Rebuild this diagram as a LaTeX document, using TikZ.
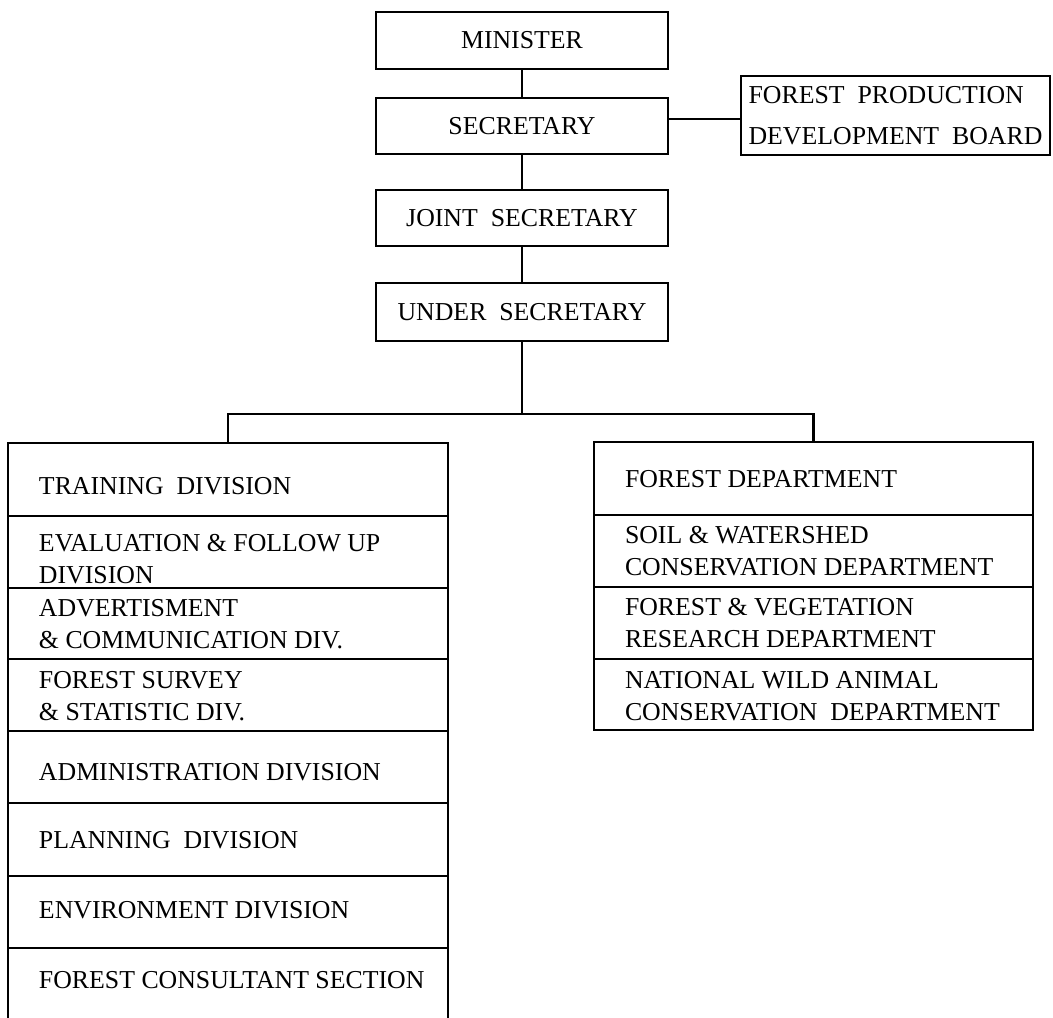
\documentclass[tikz,border=0pt]{standalone}
\usepackage{fontspec}
\setmainfont{Liberation Serif}
\begin{document}
\begin{tikzpicture}[x=0.5pt,y=-0.5pt,line width=1.1pt,
  every node/.style={outer sep=0pt},
  topbox/.style={draw,rectangle,inner sep=0pt,minimum width=146pt,
    font=\fontsize{12.9}{16}\selectfont},
  lcell/.style={draw,rectangle,inner sep=0pt,minimum width=220pt},
  rcell/.style={draw,rectangle,inner sep=0pt,minimum width=219.5pt},
  txt/.style={anchor=west,align=left,inner sep=0pt,
    font=\fontsize{12.9}{16}\selectfont},
  conn/.style={line width=1.1pt,line join=miter}]
\useasboundingbox (0,0) rectangle (1053,1017);

% top chain
\node[topbox,minimum height=28.5pt] (min) at (522,40.5) {MINISTER};
\node[topbox,minimum height=28pt] (sec) at (522,126) {SECRETARY};
\node[topbox,minimum height=28pt] (joint) at (522,218) {JOINT\ \ SECRETARY};
\node[topbox,minimum height=29pt] (under) at (522,312) {UNDER\ \ SECRETARY};
\node[draw,rectangle,inner sep=0pt,minimum width=154.5pt,minimum height=39.5pt,
  align=left,font=\fontsize{12.9}{20.5}\selectfont] (board) at (895.5,115.5)
  {FOREST\ \ PRODUCTION\\DEVELOPMENT\ \ BOARD};

\draw[conn] (min.south) -- (sec.north);
\draw[conn] (sec.south) -- (joint.north);
\draw[conn] (joint.south) -- (under.north);
\draw[conn] ([yshift=3.5pt]sec.east) -- ([yshift=3.5pt]sec.east -| board.west);

% left column cells
\node[lcell,minimum height=36.5pt] (c1) at (228,479.5) {};
\node[lcell,minimum height=36pt] (c2) at (228,552) {};
\node[lcell,minimum height=35.5pt] (c3) at (228,623.5) {};
\node[lcell,minimum height=36pt] (c4) at (228,695) {};
\node[lcell,minimum height=36pt] (c5) at (228,767) {};
\node[lcell,minimum height=36.5pt] (c6) at (228,839.5) {};
\node[lcell,minimum height=36pt] (c7) at (228,912) {};
\node[rectangle,inner sep=0pt,minimum width=220pt,minimum height=36pt] (c8) at (228,984) {};
\draw (c8.north west) -- (c8.south west);
\draw (c8.north east) -- (c8.south east);

\node[txt] (t1) at (39,486) {TRAINING\ \ DIVISION};
\node[txt] (t2) at (39,559) {EVALUATION \& FOLLOW UP\\DIVISION};
\node[txt] (t3) at (39,624) {ADVERTISMENT\\\& COMMUNICATION DIV.};
\node[txt] (t4) at (39,696) {FOREST SURVEY\\\& STATISTIC DIV.};
\node[txt] (t5) at (39,772) {ADMINISTRATION DIVISION};
\node[txt] (t6) at (39,840) {PLANNING\ \ DIVISION};
\node[txt] (t7) at (39,910) {ENVIRONMENT DIVISION};
\node[txt] (t8) at (39,980) {FOREST CONSULTANT SECTION};

% right column cells
\node[rcell,minimum height=36.5pt] (r1) at (813.5,478.5) {};
\node[rcell,minimum height=36pt] (r2) at (813.5,551) {};
\node[rcell,minimum height=36pt] (r3) at (813.5,623) {};
\node[rcell,minimum height=35.5pt] (r4) at (813.5,694.5) {};

\node[txt] (s1) at (625,479) {FOREST DEPARTMENT};
\node[txt] (s2) at (625,551) {SOIL \& WATERSHED\\CONSERVATION DEPARTMENT};
\node[txt] (s3) at (625,623.5) {FOREST \& VEGETATION\\RESEARCH DEPARTMENT};
\node[txt] (s4) at (625,696) {NATIONAL WILD ANIMAL\\CONSERVATION\ \ DEPARTMENT};

% branch connector
\coordinate (bar) at (522,414);
\draw[conn] (under.south) -- (bar);
\draw[conn] (c1.north) |- (bar) -| (r1.north);
\end{tikzpicture}
\end{document}
